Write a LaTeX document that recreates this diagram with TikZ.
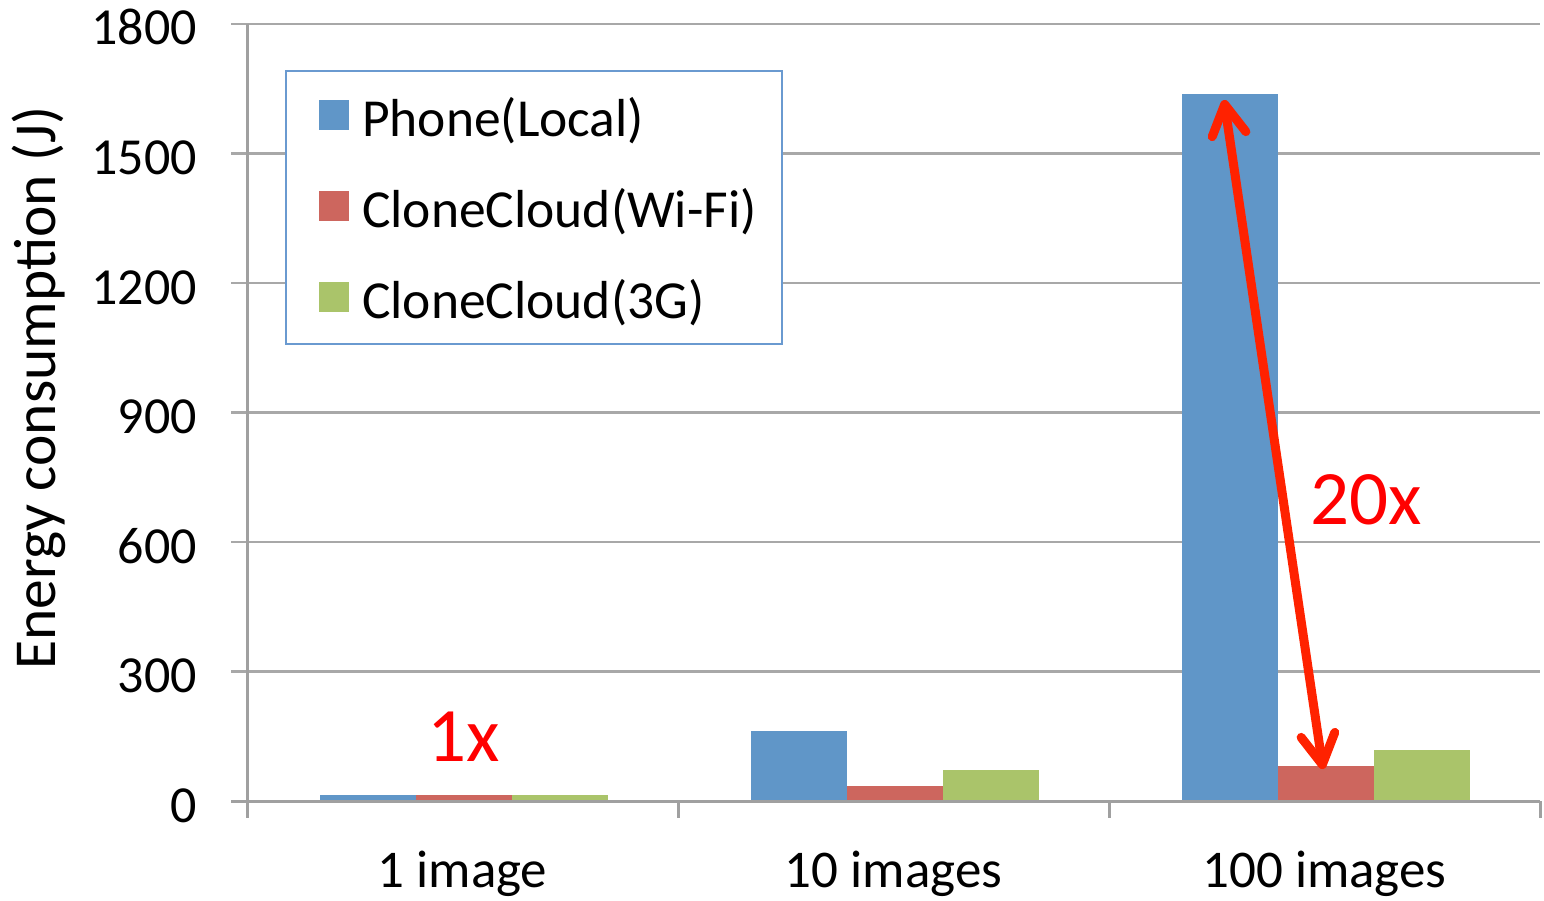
\documentclass[tikz,border=0pt]{standalone}
\usepackage{fontspec}
\setmainfont{Carlito}
\usetikzlibrary{arrows.meta}

\definecolor{phone}{HTML}{6096C8}
\definecolor{wifi}{HTML}{CD665E}
\definecolor{threeg}{HTML}{AAC46A}
\definecolor{gridgray}{HTML}{A8A8A8}
\definecolor{axisgray}{HTML}{A0A0A0}
\definecolor{legendframe}{HTML}{6A9AD0}
\definecolor{arrowred}{HTML}{FF2200}
\definecolor{notered}{HTML}{FF0000}

\tikzset{
  gridline/.style={draw=gridgray, line width=2.5pt},
  axisline/.style={draw=axisgray, line width=3pt},
  ticklabel/.style={anchor=base east, inner sep=0pt, font=\fontsize{52}{62}\selectfont},
  catlabel/.style={anchor=base, inner sep=0pt, font=\fontsize{53}{63}\selectfont},
  legtext/.style={anchor=base west, inner sep=0pt, font=\fontsize{53.5}{64}\selectfont},
  swatch/.style={minimum size=30pt, inner sep=0pt, outer sep=0pt},
  ratio/.style={anchor=base, inner sep=0pt, text=notered, font=\fontsize{77}{90}\selectfont},
  bigarrow/.style={draw=arrowred, line width=9pt, line cap=round,
    {Straight Barb[round,length=30pt,width=34pt]}-{Straight Barb[round,length=30pt,width=34pt]}}
}

\begin{document}
\begin{tikzpicture}[x=1pt, y=-1pt]
\useasboundingbox (0,0) rectangle (1544,900);

% plot area: x in pixels from the y axis, y in joules
\begin{scope}[shift={(247,801)}, y=0.43167pt]
  % horizontal gridlines
  \foreach \v in {300,600,...,1800}
    \draw[gridline] (-16,\v) -- (1293,\v);

  % bars: 1 image, 10 images, 100 images
  \foreach \c/\p/\w/\g in {0/14/14/14, 1/162/35/72, 2/1638/80/118} {
    \fill[phone]  ({73+431*\c},0)  rectangle ++(96,\p);
    \fill[wifi]   ({169+431*\c},0) rectangle ++(96,\w);
    \fill[threeg] ({265+431*\c},0) rectangle ++(96,\g);
  }

  % axes and tick marks
  \draw[axisline] (0,1800) -- (0,0) -- (1293,0);
  \draw[axisline] (-16,0) -- (0,0);
  \foreach \c in {0,1,2,3}
    \draw[axisline] ({431*\c},0) -- ++(0,-39.4);

  % value labels
  \foreach \v in {0,300,...,1800}
    \node[ticklabel, yshift=-21pt] (tick\v) at (-50,\v) {\v};
\end{scope}

% category labels
\node[catlabel] (cat1) at (462.5,887) {1 image};
\node[catlabel] (cat2) at (893.5,887) {10 images};
\node[catlabel] (cat3) at (1324.5,887) {100 images};

% axis title
\node[rotate=90, anchor=base, inner sep=0pt, font=\fontsize{59.5}{70}\selectfont]
  (ytitle) at (55,388) {Energy consumption (J)};

% legend
\node[draw=legendframe, line width=2pt, fill=white, anchor=north west,
      minimum width=496pt, minimum height=273pt, inner sep=0pt] (legend) at (285,70) {};
\node[swatch, fill=phone]  (sw1) at (334,115) {};
\node[swatch, fill=wifi]   (sw2) at (334,206) {};
\node[swatch, fill=threeg] (sw3) at (334,297) {};
\node[legtext] (lt1) at (362,136) {Phone(Local)};
\node[legtext] (lt2) at (362,227) {CloneCloud(Wi-Fi)};
\node[legtext] (lt3) at (362,318) {CloneCloud(3G)};

% ratio annotations
\coordinate (peak) at (1224,100);
\coordinate (wifitop) at (1323,769);
\draw[bigarrow] (wifitop) -- (peak);
\node[ratio] (r20) at (1366,524) {20x};
\node[ratio] (r1) at (464,761) {1x};
\end{tikzpicture}
\end{document}
